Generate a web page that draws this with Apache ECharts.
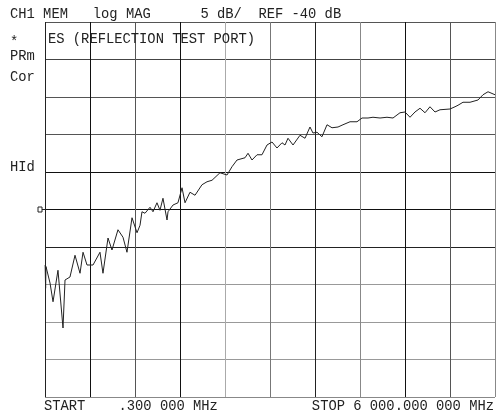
<!DOCTYPE html>
<html><head><meta charset="utf-8">
<script src="https://cdn.jsdelivr.net/npm/echarts@6/dist/echarts.min.js"></script>
<style>html,body{margin:0;padding:0;background:#fff}#c{width:496px;height:417px}</style>
</head><body><div id="c"></div>
<script>
// ---- data ----
const freqMHz = [2,8,13,67,107,173,240,267,333,400,467,507,560,640,733,773,840,893,973,1040,1093,1160,1227,1267,1293,1333,1400,1440,1493,1533,1573,1627,1640,1707,1773,1827,1867,1933,2000,2093,2160,2227,2333,2427,2493,2560,2667,2707,2760,2827,2893,2960,3027,3093,3160,3200,3240,3307,3400,3467,3533,3573,3627,3693,3760,3827,3907,3973,4067,4160,4227,4307,4373,4467,4560,4640,4733,4800,4867,4933,5000,5067,5133,5200,5267,5400,5467,5507,5573,5667,5773,5840,5907,6000];
const magDb = [-47.4,-50.5,-47.6,-49.8,-52.3,-48.1,-55.8,-49.4,-49.0,-46.1,-48.5,-45.7,-47.4,-47.4,-45.7,-48.5,-43.8,-45.4,-42.7,-43.7,-45.7,-41.1,-43.1,-42.1,-40.3,-40.5,-39.7,-40.3,-39.1,-40.1,-38.5,-41.4,-40.3,-39.4,-39.1,-37.1,-39.1,-37.7,-38.1,-36.7,-36.3,-36.1,-35.1,-35.4,-34.3,-33.4,-33.1,-32.5,-33.4,-32.7,-32.7,-31.4,-31.0,-31.8,-31.1,-31.4,-30.5,-31.4,-30.1,-30.5,-29.0,-29.8,-29.7,-30.3,-28.7,-29.1,-29.0,-28.7,-28.3,-28.3,-27.8,-27.8,-27.7,-27.8,-27.7,-27.8,-27.1,-27.0,-27.7,-27.0,-26.5,-27.1,-26.3,-27.0,-26.7,-26.6,-26.3,-26.1,-25.7,-25.7,-25.4,-24.7,-24.3,-24.7];
const startMHz = 0;
const stopMHz = 6000;
const refDb = -40;
const scaleDbPerDiv = 5;
const divisions = 10;
const headerText = "CH1 MEM   log MAG      5 dB/  REF -40 dB";
const traceTitle = "ES (REFLECTION TEST PORT)";
const startText = "START    .300 000 MHz";
const stopText = "STOP 6 000.000 000 MHz";
const sideLabels = ["*", "PRm", "Cor", "HId"];

// ---- chart ----
const chart = echarts.init(document.getElementById('c'), null, {renderer: 'canvas'});
const yMin = refDb - scaleDbPerDiv * divisions / 2;
const yMax = refDb + scaleDbPerDiv * divisions / 2;
const font = '"Liberation Mono", "DejaVu Sans Mono", monospace';
const txt = (x, y, s, extra) => Object.assign({
  type: 'text', x: x, y: y, z: 10,
  style: Object.assign({text: s, fill: '#222', font: '13.8px ' + font, textVerticalAlign: 'middle'}, extra || {})
});

chart.setOption({
  animation: false,
  backgroundColor: '#fff',
  grid: {left: 45, top: 22, width: 450, height: 375},
  xAxis: {
    type: 'value', min: startMHz, max: stopMHz, interval: (stopMHz - startMHz) / divisions,
    axisLine: {show: false}, axisTick: {show: false}, axisLabel: {show: false},
    splitLine: {show: true, lineStyle: {width: 1,
      color: ['#222', '#111', '#555', '#111', '#aaa', '#777', '#222', '#888', '#111', '#555', '#888']}}
  },
  yAxis: {
    type: 'value', min: yMin, max: yMax, interval: scaleDbPerDiv,
    axisLine: {show: false}, axisTick: {show: false}, axisLabel: {show: false},
    splitLine: {show: true, lineStyle: {width: 1,
      color: ['#888', '#999', '#999', '#999', '#222', '#111', '#111', '#555', '#555', '#444', '#555']}}
  },
  series: [{
    type: 'line', symbol: 'none', z: 5,
    lineStyle: {color: '#222', width: 1},
    data: freqMHz.map((f, i) => [f, magDb[i]])
  }]
});

const refY = chart.convertToPixel({yAxisIndex: 0}, refDb);
const left = chart.convertToPixel({xAxisIndex: 0}, startMHz);
chart.setOption({
  graphic: [
    txt(10, 14, headerText),
    txt(48, 39, traceTitle),
    txt(10, 42, sideLabels[0]),
    txt(10, 56, sideLabels[1]),
    txt(10, 77, sideLabels[2]),
    txt(10, 167, sideLabels[3]),
    txt(44, 406, startText),
    txt(494, 406, stopText, {textAlign: 'right'}),
    {type: 'polyline', z: 10, shape: {points: [[left - 3, refY], [left, refY]]}, style: {stroke: '#222', lineWidth: 1}},
    {type: 'polyline', z: 10, shape: {points: [[left - 3, refY - 2.5], [left - 7, refY - 2.5], [left - 7, refY + 2.5], [left - 3, refY + 2.5], [left - 3, refY - 2.5]]}, style: {stroke: '#222', lineWidth: 1, fill: null}}
  ]
});
</script>
</body></html>
